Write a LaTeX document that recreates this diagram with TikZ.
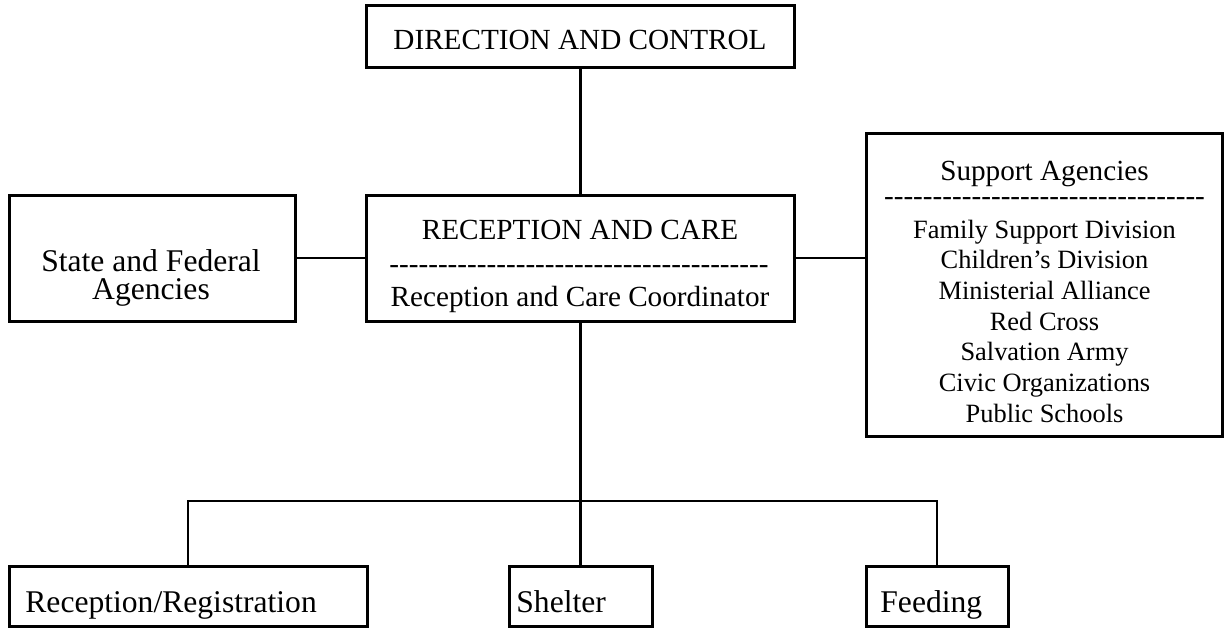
\documentclass[tikz,border=0pt]{standalone}
\usepackage{fontspec}
\setmainfont{Liberation Serif}
\newcount\hycnt
\newcommand\hyrow[1]{\hycnt=0 \loop\ifnum\hycnt<#1 -\kern0pt\advance\hycnt by 1 \repeat}
\tikzset{
  box/.style={draw, line width=1.5pt, inner sep=0pt, fill=white},
  conn/.style={line width=1.3pt},
  txt/.style={inner sep=0pt, anchor=base},
  txtl/.style={inner sep=0pt, anchor=base west},
  dashrow/.style={inner sep=0pt, anchor=base, text height=4pt, text depth=0pt},
  fmain/.style={font=\fontsize{14.6}{17}\selectfont},
  fsub/.style={font=\fontsize{13.2}{15}\selectfont},
  fbig/.style={font=\fontsize{15.8}{18}\selectfont}
}
\begin{document}
\begin{tikzpicture}[x=0.5pt,y=-0.5pt]
\useasboundingbox (0,0) rectangle (1225,628);
% boxes
\node[box, minimum width=214pt, minimum height=31pt] (dc) at (580.5,36.5) {};
\node[box, minimum width=214pt, minimum height=63pt] (rc) at (580.5,258) {};
\node[box, minimum width=143pt, minimum height=63pt] (sf) at (152,258) {};
\node[box, minimum width=178pt, minimum height=151.5pt] (sa) at (1044,284.5) {};
\node[box, minimum width=179pt, minimum height=30pt] (rr) at (188,596) {};
\node[box, minimum width=71.5pt, minimum height=30pt] (sh) at (580.5,596) {};
\node[box, minimum width=71pt, minimum height=30pt] (fd) at (937,596) {};
% texts
\node[txt, fmain] (tdc) at (580,49) {DIRECTION AND CONTROL};
\node[txt, fmain] (trc1) at (580,239) {RECEPTION AND CARE};
\node[dashrow, fmain] (trc2) at (579,273.5) {\hyrow{39}};
\node[txt, fmain] (trc3) at (580,306) {Reception and Care Coordinator};
\node[txt, fbig] (tsf1) at (151,271) {State and Federal};
\node[txt, fbig] (tsf2) at (151,299.5) {Agencies};
\node[txt, fmain] (tsa0) at (1044.5,180) {Support Agencies};
\node[dashrow, fmain] (tsad) at (1044.5,205.5) {\hyrow{33}};
\node[txt, fsub] (tsa1) at (1044.5,238) {Family Support Division};
\node[txt, fsub] (tsa2) at (1044.5,268.7) {Children’s Division};
\node[txt, fsub] (tsa3) at (1044.5,299.4) {Ministerial Alliance};
\node[txt, fsub] (tsa4) at (1044.5,330.1) {Red Cross};
\node[txt, fsub] (tsa5) at (1044.5,360.8) {Salvation Army};
\node[txt, fsub] (tsa6) at (1044.5,391.5) {Civic Organizations};
\node[txt, fsub] (tsa7) at (1044.5,422.2) {Public Schools};
\node[txtl, fbig] (trr) at (25,612) {Reception/Registration};
\node[txtl, fbig] (tsh) at (516,612) {Shelter};
\node[txtl, fbig] (tfd) at (880,612) {Feeding};
% connectors
\coordinate (bus) at (580.5,501);
\draw[conn] (dc.south) -- (rc.north);
\draw[conn] (sf.east) -- (rc.west);
\draw[conn] (rc.east) -- (rc.east -| sa.west);
\draw[conn] (rc.south) -- (bus);
\draw[conn] (rr.north) |- (bus) -| (fd.north);
\draw[conn] (bus) -- (sh.north);
\end{tikzpicture}
\end{document}
